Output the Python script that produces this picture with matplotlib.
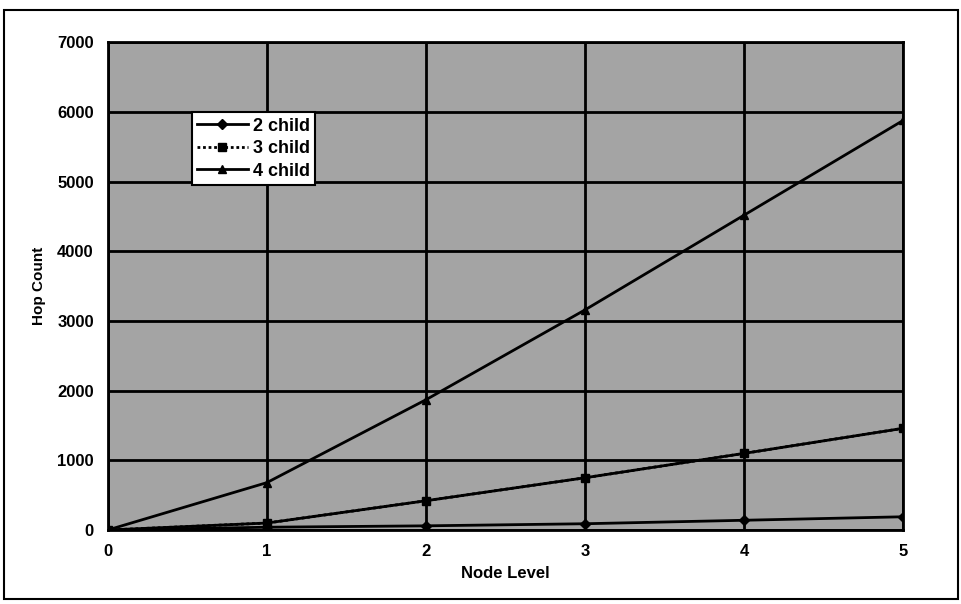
import matplotlib
matplotlib.use("Agg")
import matplotlib.pyplot as plt
from matplotlib.patches import Rectangle

# values
node_level = [0, 1, 2, 3, 4, 5]
two_child = [0, 40, 60, 90, 140, 190]
three_child = [0, 100, 420, 750, 1100, 1460]
four_child = [0, 680, 1870, 3160, 4520, 5880]

plt.rcParams['font.family'] = ['Liberation Sans', 'DejaVu Sans']

fig = plt.figure(figsize=(9.62, 6.04), dpi=100)
ax = fig.add_axes([0.112, 0.1225, 0.827, 0.8075])
ax.set_facecolor('#a4a4a4')

# outer frame of the scanned figure
fig.patches.append(Rectangle((0.004, 0.008), 0.992, 0.976, transform=fig.transFigure,
                             fill=False, edgecolor='black', linewidth=1.5))

ax.plot(node_level, two_child, color='black', lw=2, marker='D', ms=5, label='2 child')
ax.plot(node_level, three_child, color='black', lw=2, marker='s', ms=6, label='3 child',
        linestyle=(0, (1, 1)))
ax.plot(node_level, four_child, color='black', lw=2, marker='^', ms=6, label='4 child')
# line over the dots drawn solid (like the scan), legend keeps dotted style
ax.plot(node_level, three_child, color='black', lw=2)

ax.set_xlim(0, 5)
ax.set_ylim(0, 7000)
ax.set_xticks(node_level)
ax.set_yticks(range(0, 7001, 1000))
ax.grid(True, color='black', linewidth=2)
ax.set_axisbelow(True)
ax.tick_params(length=0, labelsize=12, pad=10)
for lbl in ax.get_xticklabels() + ax.get_yticklabels():
    lbl.set_fontweight('bold')
for s in ax.spines.values():
    s.set_linewidth(2)

ax.set_xlabel('Node Level', fontsize=12, fontweight='bold', labelpad=5)
ax.set_ylabel('Hop Count', fontsize=11, fontweight='bold', labelpad=8)

leg = ax.legend(loc='upper left', bbox_to_anchor=(0.094, 0.875), fancybox=False,
                framealpha=1, edgecolor='black', fontsize=13, handlelength=2.8,
                borderpad=0.3, labelspacing=0.3, handletextpad=0.3)
leg.get_frame().set_linewidth(1.5)
for t in leg.get_texts():
    t.set_fontweight('bold')

fig.savefig('out.png', dpi=100)
